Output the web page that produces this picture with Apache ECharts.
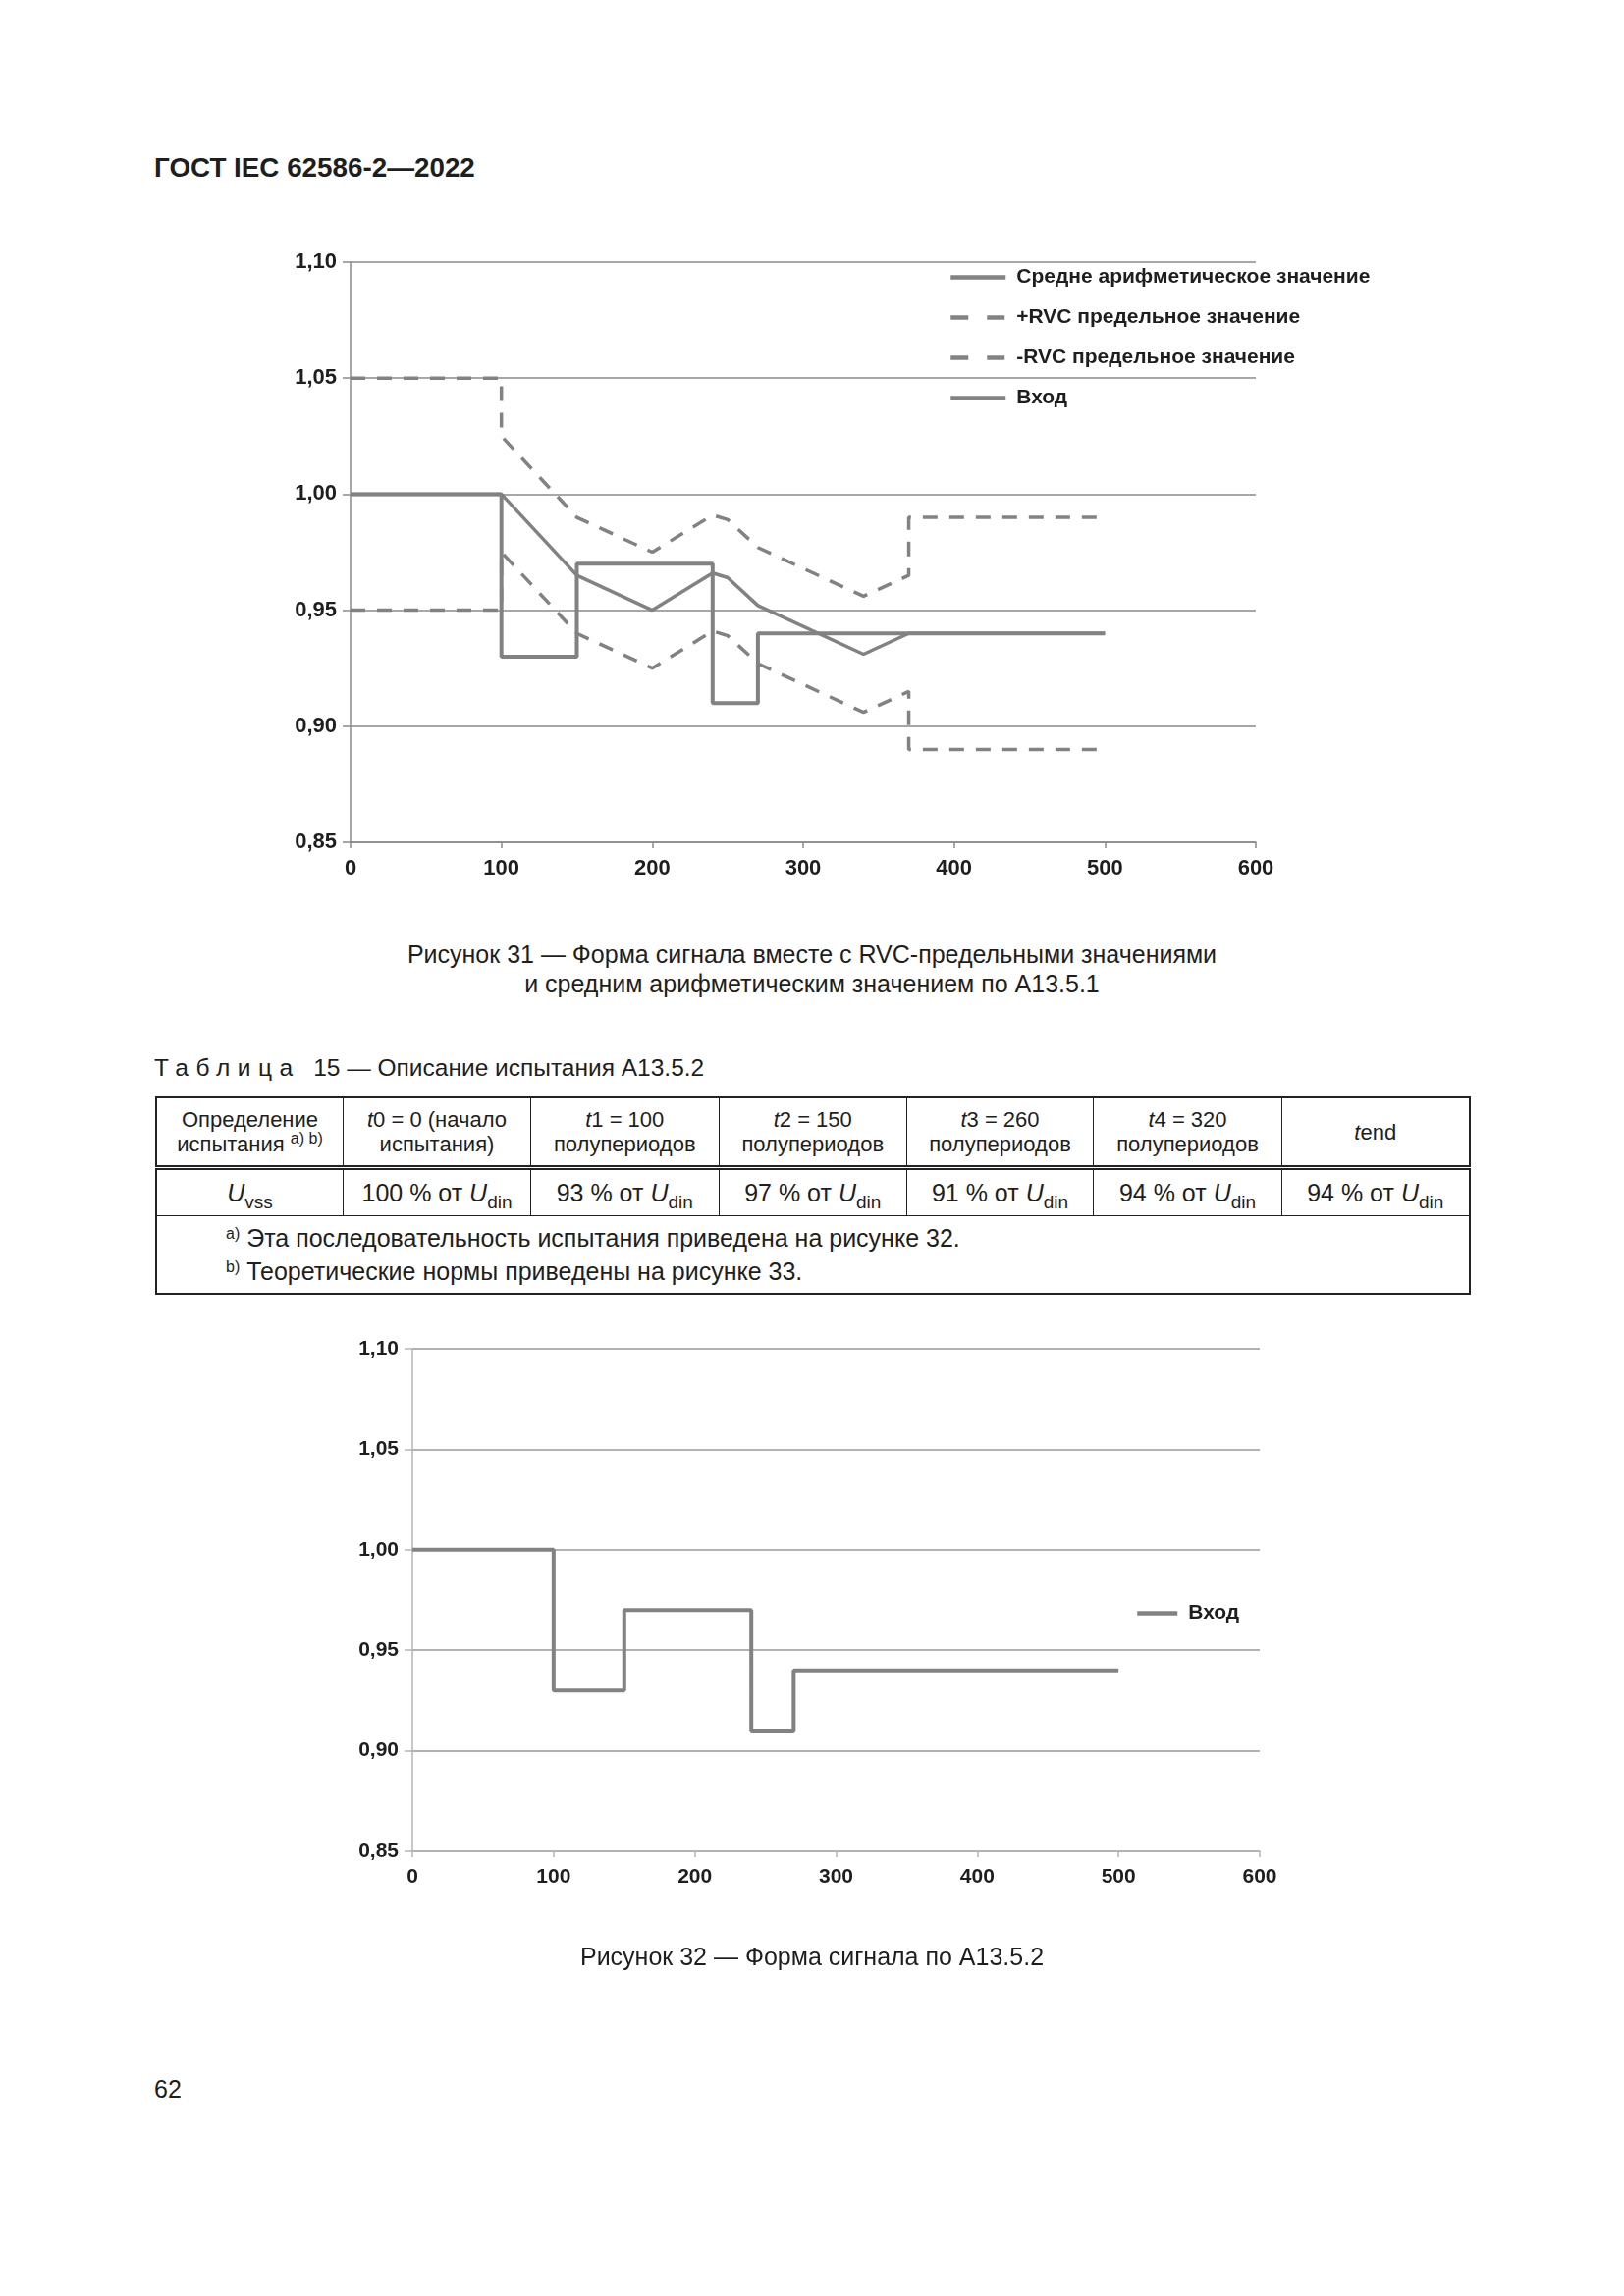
<!DOCTYPE html>
<html>
<head>
<meta charset="utf-8">
<script src="https://cdn.jsdelivr.net/npm/echarts@6/dist/echarts.min.js"></script>
<style>
  html, body { margin:0; padding:0; background:#fff; }
  body { width:1654px; height:2339px; position:relative; font-family:"Liberation Sans", Arial, sans-serif; color:#1e1e1e; }
  .abs { position:absolute; white-space:nowrap; }
  #c1 { position:absolute; left:0; top:0; width:1654px; height:950px; }
  #c2 { position:absolute; left:0; top:1300px; width:1654px; height:680px; }
  table { position:absolute; left:158px; top:1117px; width:1338px; border-collapse:collapse; table-layout:fixed; border:2.5px solid #222; }
  td { border:1.5px solid #222; text-align:center; vertical-align:middle; padding:0; }
  tr.h td { height:68px; font-size:22px; line-height:25px; border-bottom:5px double #222; }
  tr.v td { height:46px; font-size:25px; }
  tr.f td { height:78px; font-size:25px; line-height:34px; text-align:left; padding-left:70px; }
  sup { font-size:16px; vertical-align:8px; line-height:0; }
  sub { font-size:19px; vertical-align:-7px; line-height:0; }
</style>
</head>
<body>
<div class="abs" style="left:157px; top:155px; font-size:27.8px; font-weight:bold;">ГОСТ IEC 62586-2—2022</div>
<div id="c1"></div>
<div class="abs" style="left:0; width:1654px; text-align:center; top:957px; font-size:25px; line-height:30px;">Рисунок 31 — Форма сигнала вместе с RVC-предельными значениями<br>и средним арифметическим значением по A13.5.1</div>
<div class="abs" style="left:157px; top:1074px; font-size:24.5px;"><span style="letter-spacing:7.5px;">Таблица</span>&nbsp; 15 — Описание испытания A13.5.2</div>
<table>
  <colgroup>
    <col style="width:190.5px"><col style="width:191px"><col style="width:191.5px"><col style="width:191.5px"><col style="width:190px"><col style="width:192px"><col style="width:191px">
  </colgroup>
  <tr class="h">
    <td>Определение<br>испытания <sup>а) b)</sup></td>
    <td><i>t</i>0 = 0 (начало<br>испытания)</td>
    <td><i>t</i>1 = 100<br>полупериодов</td>
    <td><i>t</i>2 = 150<br>полупериодов</td>
    <td><i>t</i>3 = 260<br>полупериодов</td>
    <td><i>t</i>4 = 320<br>полупериодов</td>
    <td><i>t</i>end</td>
  </tr>
  <tr class="v">
    <td><i>U</i><sub>vss</sub></td>
    <td>100 % от <i>U</i><sub>din</sub></td>
    <td>93 % от <i>U</i><sub>din</sub></td>
    <td>97 % от <i>U</i><sub>din</sub></td>
    <td>91 % от <i>U</i><sub>din</sub></td>
    <td>94 % от <i>U</i><sub>din</sub></td>
    <td>94 % от <i>U</i><sub>din</sub></td>
  </tr>
  <tr class="f">
    <td colspan="7"><sup>a)</sup> Эта последовательность испытания приведена на рисунке 32.<br><sup>b)</sup> Теоретические нормы приведены на рисунке 33.</td>
  </tr>
</table>
<div id="c2"></div>
<div class="abs" style="left:0; width:1654px; text-align:center; top:1979px; font-size:25px;">Рисунок 32 — Форма сигнала по A13.5.2</div>
<div class="abs" style="left:157px; top:2114px; font-size:25px;">62</div>

<script>
// ---- data ----
const xTicks = [0, 100, 200, 300, 400, 500, 600];
const yTicks = [0.85, 0.90, 0.95, 1.00, 1.05, 1.10];

const inputX = [0, 100, 100, 150, 150, 240, 240, 270, 270, 500];
const inputY = [1.00, 1.00, 0.93, 0.93, 0.97, 0.97, 0.91, 0.91, 0.94, 0.94];

const avgX = [0, 100, 150, 200, 240, 250, 270, 340, 370, 500];
const avgY = [1.000, 1.000, 0.965, 0.950, 0.966, 0.964, 0.952, 0.931, 0.940, 0.940];

const plusX = [0, 100, 100, 150, 200, 240, 250, 270, 340, 370, 370, 500];
const plusY = [1.050, 1.050, 1.025, 0.990, 0.975, 0.991, 0.989, 0.977, 0.956, 0.965, 0.990, 0.990];

const minusX = [0, 100, 100, 150, 200, 240, 250, 270, 340, 370, 370, 500];
const minusY = [0.950, 0.950, 0.975, 0.940, 0.925, 0.941, 0.939, 0.927, 0.906, 0.915, 0.890, 0.890];

const names = ['Средне арифметическое значение', '+RVC предельное значение', '-RVC предельное значение', 'Вход'];

// ---- helpers ----
function pairs(xs, ys) { return xs.map((x, i) => [x, ys[i]]); }
const LINE = '#828282';
const FONT = '"Liberation Sans", Arial, sans-serif';

function axes(fs, gridColor, axisColor) {
  return {
    xAxis: {
      type: 'value', min: xTicks[0], max: xTicks[xTicks.length - 1], interval: 100,
      axisLine: { show: true, onZero: false, lineStyle: { color: axisColor, width: 1.5 } },
      axisTick: { show: true, length: 6, lineStyle: { color: axisColor, width: 1.5 } },
      axisLabel: { color: '#1e1e1e', fontSize: fs, fontWeight: 'bold', fontFamily: FONT, margin: 16 },
      splitLine: { show: false }
    },
    yAxis: {
      type: 'value', min: yTicks[0], max: yTicks[yTicks.length - 1], interval: 0.05,
      axisLine: { show: true, lineStyle: { color: axisColor, width: 1.5 } },
      axisTick: { show: true, length: 8, lineStyle: { color: axisColor, width: 1.5 } },
      axisLabel: { color: '#1e1e1e', fontSize: fs, fontWeight: 'bold', fontFamily: FONT, margin: 14,
        formatter: v => v.toFixed(2).replace('.', ',') },
      splitLine: { show: true, lineStyle: { color: gridColor, width: 1.5 } }
    }
  };
}

function lineSeries(name, data, dashed, width) {
  return {
    name: name, type: 'line', data: data, symbol: 'none', showSymbol: false, animation: false,
    lineStyle: { color: LINE, width: width, type: dashed ? [15, 12] : 'solid' },
    itemStyle: { color: LINE }
  };
}

const solidIcon = { lineStyle: { width: 4.5, type: 'solid' } };
const dashIcon = { lineStyle: { width: 4.5, type: [18, 19] } };

// ---- chart 1 ----
const c1 = echarts.init(document.getElementById('c1'));
c1.setOption(Object.assign({
  animation: false,
  grid: { left: 357, top: 267, width: 922, height: 591 },
  legend: {
    orient: 'vertical', left: 966, top: 272, padding: 0, itemWidth: 56, itemHeight: 14, itemGap: 20,
    data: [
      Object.assign({ name: names[0] }, solidIcon),
      Object.assign({ name: names[1] }, dashIcon),
      Object.assign({ name: names[2] }, dashIcon),
      Object.assign({ name: names[3] }, solidIcon)
    ],
    itemStyle: { opacity: 0 },
    textStyle: { fontSize: 21, fontWeight: 'bold', fontFamily: FONT, color: '#1e1e1e', lineHeight: 20, padding: [0, 0, 0, 6] }
  },
  series: [
    lineSeries(names[0], pairs(avgX, avgY), false, 3.5),
    lineSeries(names[1], pairs(plusX, plusY), true, 3.5),
    lineSeries(names[2], pairs(minusX, minusY), true, 3.5),
    lineSeries(names[3], pairs(inputX, inputY), false, 4)
  ]
}, axes(22, '#8a8a8a', '#8a8a8a')));

// ---- chart 2 ----
const c2 = echarts.init(document.getElementById('c2'));
c2.setOption(Object.assign({
  animation: false,
  grid: { left: 420, top: 74, width: 863, height: 512 },
  legend: {
    orient: 'vertical', left: 1156, top: 333, padding: 0, itemWidth: 41, itemHeight: 14,
    data: [Object.assign({ name: names[3] }, solidIcon)],
    itemStyle: { opacity: 0 },
    textStyle: { fontSize: 21, fontWeight: 'bold', fontFamily: FONT, color: '#1e1e1e', padding: [0, 0, 0, 6] }
  },
  series: [
    lineSeries(names[3], pairs(inputX, inputY), false, 4)
  ]
}, axes(21, '#999999', '#b5b5b5')));
</script>
</body>
</html>
